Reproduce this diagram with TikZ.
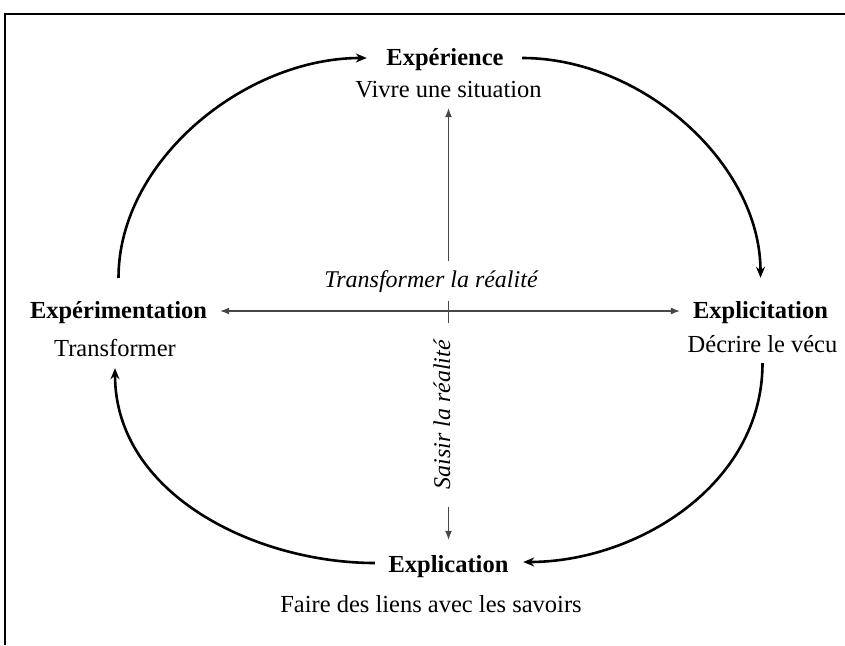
\documentclass[tikz,border=0pt]{standalone}
\usepackage{fontspec}
\setmainfont{Liberation Serif}
\usetikzlibrary{arrows.meta}
\begin{document}
\begin{tikzpicture}[x=1pt,y=1pt,
  lab/.style={anchor=base, inner sep=0pt, text height=17pt, text depth=5pt, font=\fontsize{24.5}{29}\selectfont},
  ttl/.style={lab, font=\fontsize{24.5}{29}\selectfont\bfseries},
  cyc/.style={line width=2.6pt, -{Stealth[length=11pt,width=9pt]}},
  axis/.style={line width=1.2pt, draw=black!72, {Latex[length=9pt,width=7pt]}-{Latex[length=9pt,width=7pt]}},
  axlab/.style={font=\fontsize{24}{29}\selectfont\itshape, fill=white, text=black}
]
\useasboundingbox (0,0) rectangle (845,645);
\draw[line width=2pt] (5,0) -- (5,631) -- (845,631);

\node[ttl] (exp) at (445,579) {Expérience};
\node[lab] (expsub) at (448.5,547) {Vivre une situation};
\node[ttl] (expl) at (760.5,326) {Explicitation};
\node[lab] (expldesc) at (762.5,292) {Décrire le vécu};
\node[ttl] (explc) at (448.5,73) {Explication};
\node[lab] (explcsub) at (431,33) {Faire des liens avec les savoirs};
\node[ttl] (expm) at (118.5,326) {Expérimentation};
\node[lab] (expmsub) at (115,288) {Transformer};

% axes
\draw[axis, shorten <=5pt, shorten >=15pt] (expsub.south) -- (explc.north);
\draw[axis, shorten <=13pt, shorten >=13pt] ([yshift=2pt]expm.east) -- ([yshift=2pt]expl.west);

\node[axlab, anchor=base, inner xsep=6pt, text height=22pt, text depth=8pt, inner ysep=5pt] (tr) at (431,357) {Transformer la réalité};
\node[axlab, rotate=90, anchor=base, inner xsep=17pt, inner ysep=2pt, text depth=3pt] (sr) at (450,230) {Saisir la réalité};

% cycle
\draw[cyc, shorten <=24pt, shorten >=19.5pt] (expm.north) to[out=90,in=180] ([yshift=2pt]exp.west);
\draw[cyc, shorten <=18.5pt, shorten >=24pt] ([yshift=2pt]exp.east) to[out=0,in=90] (expl.north);
\draw[cyc, shorten <=5pt, shorten >=14.6pt] (expldesc.south) to[out=-90,in=0] ([yshift=4pt]explc.east);
\draw[cyc, shorten <=13.6pt, shorten >=6pt] ([yshift=3pt]explc.west) to[out=180,in=-90] (expmsub.south);
\end{tikzpicture}
\end{document}
